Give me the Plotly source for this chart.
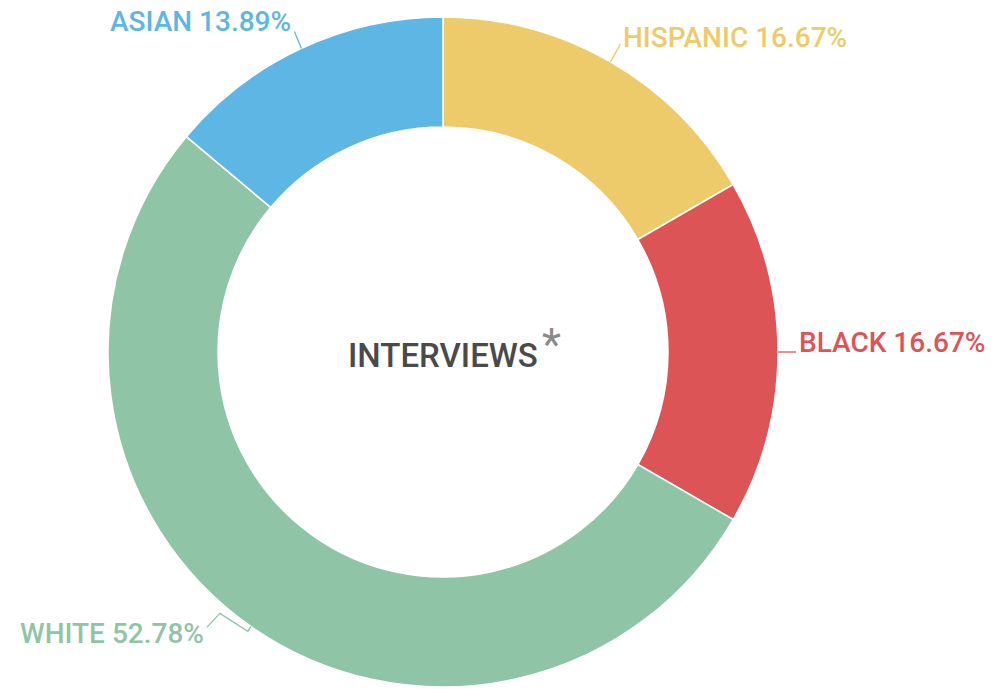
import math
import plotly.graph_objects as go

# Interview counts by group, clockwise from 12 o'clock
groups = ["HISPANIC", "BLACK", "WHITE", "ASIAN"]
counts = [6, 6, 19, 5]
colors = ["#EECB6A", "#DC5456", "#8FC4A7", "#5EB6E5"]

W, H = 1007, 689
CX, CY, R = 443, 352, 335          # donut centre / outer radius in px
HOLE = 225 / 335

total = sum(counts)
pcts = [c / total * 100 for c in counts]

fig = go.Figure(go.Pie(
    labels=groups,
    values=counts,
    sort=False,
    direction="clockwise",
    rotation=0,
    hole=HOLE,
    marker=dict(colors=colors, line=dict(color="white", width=1.5)),
    textinfo="none",
    hoverinfo="label+percent",
    showlegend=False,
    domain=dict(x=[(CX - R) / W, (CX + R) / W],
                y=[(H - CY - R) / H, (H - CY + R) / H]),
))


def px(x, y):
    return x / W, 1 - y / H


# anchor point on the outer edge at each slice's middle angle
anchors = []
cum = 0
for c in counts:
    mid = (cum + c / 2) / total * 2 * math.pi
    anchors.append((CX + R * math.sin(mid), CY - R * math.cos(mid)))
    cum += c

# leader offsets (relative to anchor) and label placement per group
leaders = {
    "HISPANIC": [(0, 0), (10, -18)],
    "BLACK": [(0, 0), (18, 0)],
    "WHITE": [(0, 0), (-3, 5), (-31, -13), (-44, 1)],
    "ASIAN": [(0, 0), (-7, -17)],
}
label_pos = {
    "HISPANIC": ((621, 37), "left"),
    "BLACK": ((797, 343), "left"),
    "WHITE": ((206, 633), "right"),
    "ASIAN": ((293, 21), "right"),
}

shapes = []
annotations = []
for g, col, p, (ax, ay) in zip(groups, colors, pcts, anchors):
    pts = [px(ax + dx, ay + dy) for dx, dy in leaders[g]]
    path = "M " + " L ".join(f"{x:.5f},{y:.5f}" for x, y in pts)
    shapes.append(dict(type="path", path=path, xref="paper", yref="paper",
                       line=dict(color=col, width=1.3)))
    (lx, ly), anchor = label_pos[g]
    x, y = px(lx, ly)
    annotations.append(dict(
        x=x, y=y, xref="paper", yref="paper", xanchor=anchor, yanchor="middle",
        text=f"{g} {p:.2f}%", showarrow=False,
        font=dict(family="Roboto", size=28, color=col, weight=500),
    ))

x, y = px(CX, 355)
annotations.append(dict(
    x=x, y=y, xref="paper", yref="paper", xanchor="center", yanchor="middle",
    text="INTERVIEWS", showarrow=False,
    font=dict(family="Roboto", size=33, color="#4A4A4A", weight=500),
))
x, y = px(540, 345)
annotations.append(dict(
    x=x, y=y, xref="paper", yref="paper", xanchor="left", yanchor="middle",
    text="*", showarrow=False,
    font=dict(family="Roboto", size=44, color="#8A8A8A", weight=400),
))

fig.update_layout(
    width=W, height=H,
    margin=dict(l=0, r=0, t=0, b=0),
    paper_bgcolor="white",
    plot_bgcolor="white",
    shapes=shapes,
    annotations=annotations,
)

fig.write_html("out.html")
